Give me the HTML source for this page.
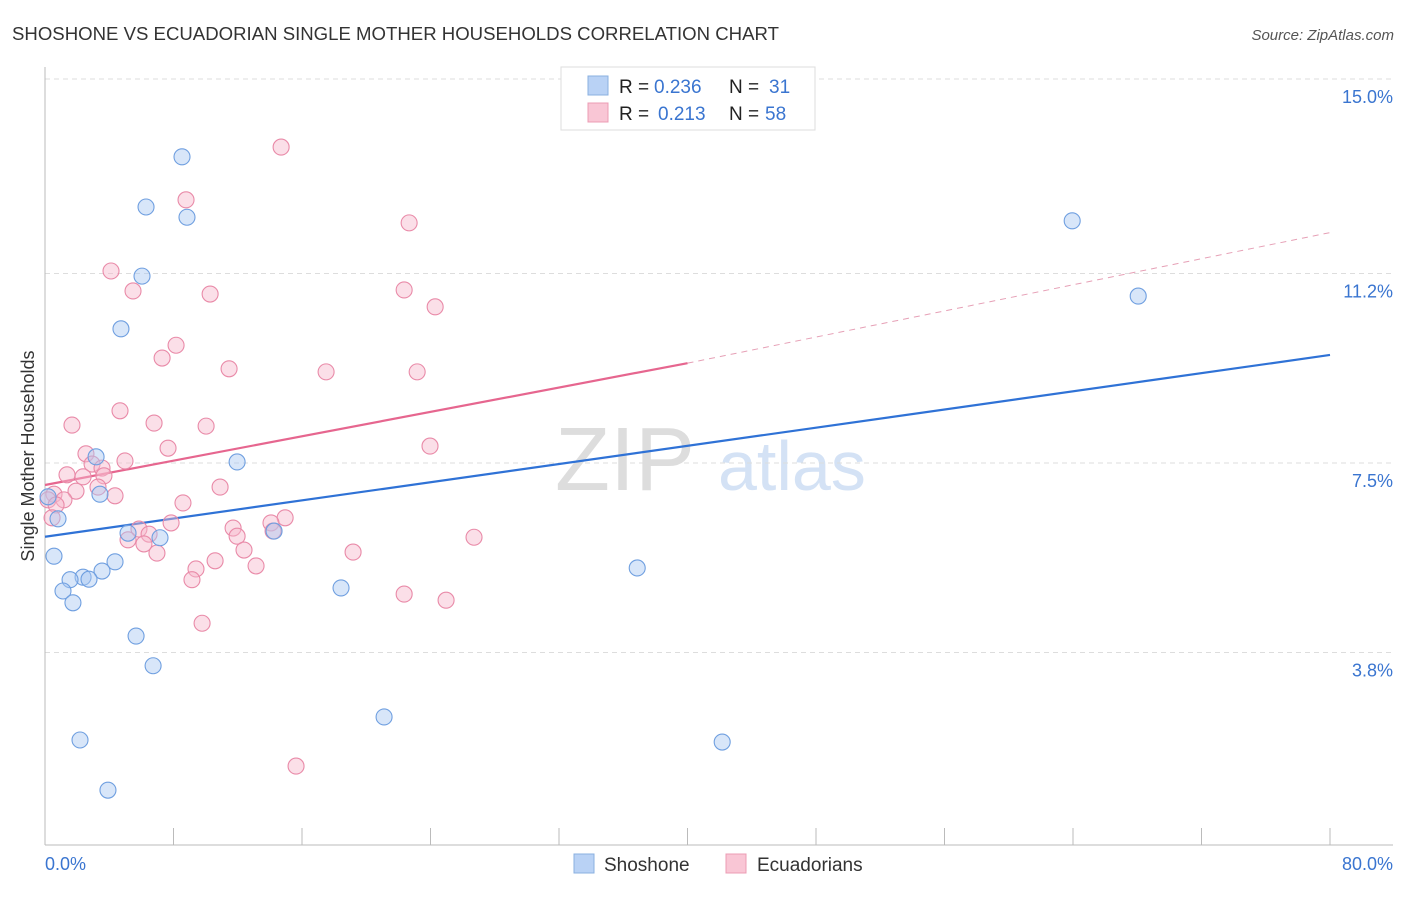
<!DOCTYPE html>
<html><head><meta charset="utf-8"><style>
body{margin:0;background:#fff;font-family:"Liberation Sans",sans-serif}
svg text{font-family:"Liberation Sans",sans-serif}
</style></head><body>
<svg id="chart" width="1406" height="892" xmlns="http://www.w3.org/2000/svg">
<text x="12" y="40" font-size="18.6" fill="#333">SHOSHONE VS ECUADORIAN SINGLE MOTHER HOUSEHOLDS CORRELATION CHART</text>
<text x="1394" y="40" font-size="15" fill="#555" text-anchor="end" font-style="italic">Source: ZipAtlas.com</text>
<g><text x="555" y="490" font-size="90" fill="#ddd" font-family="Liberation Serif">ZIP</text><text x="718" y="490" font-size="70" fill="#d4e2f5">atlas</text></g>
<g id="grid"></g><g id="axes"></g><g id="lines"></g><g id="pts"></g>
<text transform="translate(34,456) rotate(-90)" font-size="18" fill="#333" text-anchor="middle">Single Mother Households</text>
<text x="45" y="870" font-size="18" fill="#3a75d0">0.0%</text>
<text x="1393" y="870" font-size="18" fill="#3a75d0" text-anchor="end">80.0%</text>
<g>
<rect x="561" y="67" width="254" height="63" fill="#fff" stroke="#ddd"/>
<rect x="588" y="76" width="20" height="19" fill="#b9d2f5" stroke="#8ab0e0"/>
<rect x="588" y="103" width="20" height="19" fill="#f9c6d5" stroke="#ec9cb4"/>
<text x="619" y="93" font-size="19" fill="#222">R =</text>
<text x="654" y="93" font-size="19" fill="#3a75d0">0.236</text>
<text x="729" y="93" font-size="19" fill="#222">N =</text>
<text x="769" y="93" font-size="19" fill="#3a75d0">31</text>
<text x="619" y="120" font-size="19" fill="#222">R =</text>
<text x="658" y="120" font-size="19" fill="#3a75d0">0.213</text>
<text x="729" y="120" font-size="19" fill="#222">N =</text>
<text x="765" y="120" font-size="19" fill="#3a75d0">58</text>
</g>
<g>
<rect x="574" y="854" width="20" height="19" fill="#b9d2f5" stroke="#8ab0e0"/>
<text x="604" y="871" font-size="19" fill="#333">Shoshone</text>
<rect x="726" y="854" width="20" height="19" fill="#f9c6d5" stroke="#ec9cb4"/>
<text x="757" y="871" font-size="19" fill="#333">Ecuadorians</text>
</g>
</svg>
<script>
const yTicks=[15.0,11.2,7.5,3.8];
const yTickLabels=["15.0%","11.2%","7.5%","3.8%"];
const xTicks=[0,8,16,24,32,40,48,56,64,72,80];
const shoX=[8.53,6.29,8.84,6.04,4.73,63.95,68.06,3.18,3.42,11.96,0.19,0.81,0.56,5.17,7.16,14.26,4.36,3.55,2.37,2.74,1.56,1.12,1.74,18.43,36.87,5.67,6.73,21.11,2.18,42.16,3.92];
const shoY=[13.48,12.50,12.30,11.15,10.12,12.23,10.76,7.62,6.89,7.52,6.84,6.41,5.68,6.13,6.04,6.17,5.57,5.39,5.27,5.23,5.22,5.0,4.77,5.06,5.45,4.12,3.54,2.54,2.09,2.05,1.11];
const ecuX=[14.70,8.78,22.67,4.11,5.48,10.28,22.36,24.29,8.16,7.29,11.46,17.50,23.17,4.67,1.68,6.79,10.03,7.66,23.97,2.55,4.98,2.93,3.55,1.37,2.37,3.67,3.30,10.90,1.93,0.56,4.36,1.18,0.19,0.69,8.59,0.44,14.95,7.85,14.07,11.71,5.85,6.48,11.96,5.17,14.20,26.71,6.16,12.39,6.97,19.18,10.59,9.40,13.14,9.15,22.36,24.97,9.78,15.63];
const ecuY=[13.67,12.64,12.19,11.25,10.86,10.80,10.88,10.55,9.80,9.55,9.34,9.28,9.28,8.52,8.24,8.28,8.22,7.79,7.83,7.68,7.54,7.48,7.40,7.27,7.23,7.25,7.03,7.03,6.95,6.89,6.86,6.78,6.78,6.68,6.72,6.43,6.43,6.33,6.33,6.23,6.21,6.11,6.07,6.00,6.17,6.05,5.92,5.80,5.74,5.76,5.59,5.43,5.49,5.22,4.94,4.82,4.37,1.58];
const shoTrend=[6.06,9.61];
const ecuTrend=[7.07,9.45,12.0];
const NS="http://www.w3.org/2000/svg";
const X=v=>45+v*16.0625, Y=v=>79+(15-v)*51.2;
function mk(p,t,a){const e=document.createElementNS(NS,t);for(const k in a)e.setAttribute(k,a[k]);document.getElementById(p).appendChild(e);return e;}
yTicks.forEach((t,i)=>{
 const l=mk('grid','line',{x1:45,x2:1393,y1:Y(t),y2:Y(t),stroke:'#ddd','stroke-dasharray':'5,4'});
 
 
 const tx=mk('grid','text',{x:1393,y:Y(t)+24,'font-size':18,fill:'#3a75d0','text-anchor':'end'});
 tx.textContent=yTickLabels[i];
 
 
});
let a=mk('axes','line',{x1:45,x2:1393,y1:845,y2:845,stroke:'#bbb'});


a=mk('axes','line',{x1:45,x2:45,y1:67,y2:845,stroke:'#bbb'});


xTicks.forEach(t=>{const l=mk('axes','line',{x1:X(t),x2:X(t),y1:828,y2:845,stroke:'#bbb'});
 
 });
function dots(xs,ys,fill,stroke,name){xs.forEach((x,i)=>{const c=mk('pts','circle',{cx:X(x),cy:Y(ys[i]),r:8,fill:fill,'fill-opacity':0.45,stroke:stroke,'stroke-width':1.1});
 
 });}
dots(ecuX,ecuY,'#f7b9cc','#e98aa8','ecuadorian-point');
dots(shoX,shoY,'#a9c8f2','#6f9fe0','shoshone-point');
let t=mk('lines','line',{x1:X(0),y1:Y(shoTrend[0]),x2:X(80),y2:Y(shoTrend[1]),stroke:'#2f72d6','stroke-width':2.2});


t=mk('lines','line',{x1:X(0),y1:Y(ecuTrend[0]),x2:X(40),y2:Y(ecuTrend[1]),stroke:'#e6668f','stroke-width':2.2});


t=mk('lines','line',{x1:X(40),y1:Y(ecuTrend[1]),x2:X(80),y2:Y(ecuTrend[2]),stroke:'#e6a0b6','stroke-width':1,'stroke-dasharray':'6,5'});


</script>
</body></html>
